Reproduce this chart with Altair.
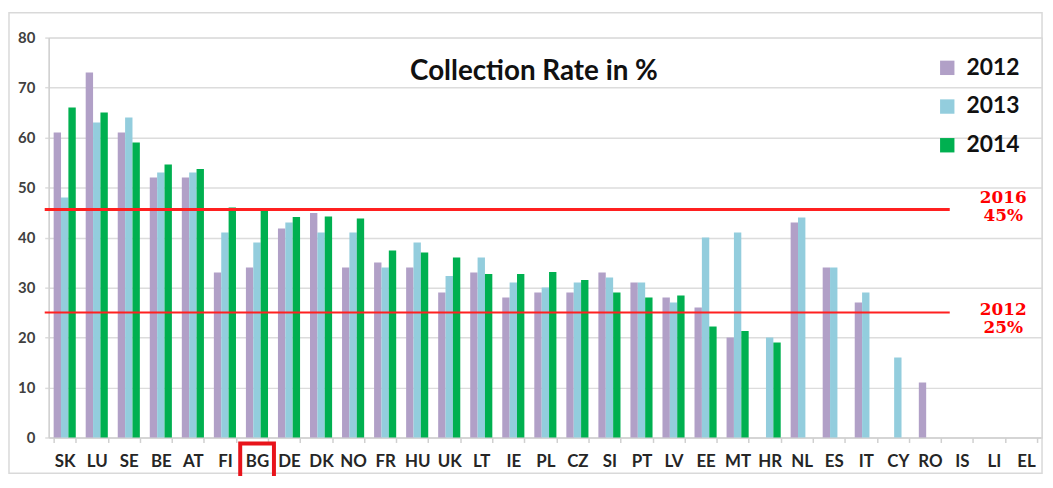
import altair as alt
import pandas as pd

countries = ["SK", "LU", "SE", "BE", "AT", "FI", "BG", "DE", "DK", "NO", "FR", "HU",
             "UK", "LT", "IE", "PL", "CZ", "SI", "PT", "LV", "EE", "MT", "HR", "NL",
             "ES", "IT", "CY", "RO", "IS", "LI", "EL"]
rate_2012 = [61, 73, 61, 52, 52, 33, 34, 41.8, 44.9, 34, 35, 34, 29, 33, 28, 29, 29, 33,
             31, 28, 26, 20, None, 43, 34, 27, None, 11, None, None, None]
rate_2013 = [48, 63, 64, 53, 53, 41, 39, 43, 41, 41, 34, 39, 32.3, 36, 31, 30, 31, 32,
             31, 27, 40, 41, 20, 44, 34, 29, 16, None, None, None, None]
rate_2014 = [66, 65, 59, 54.6, 53.7, 46, 45.4, 44.1, 44.2, 43.8, 37.4, 37, 36, 32.7,
             32.7, 33.1, 31.5, 29, 28, 28.4, 22.2, 21.3, 19, None, None, None, None,
             None, None, None, None]
years = ["2012", "2013", "2014"]
colors = ["#B1A0C7", "#93CDDD", "#00B050"]

target_values = [45.6, 25]
target_widths = [3, 2]
target_names = ["2016\n45%", "2012\n25%"]

rows = []
for yr, series in zip(years, [rate_2012, rate_2013, rate_2014]):
    for c, v in zip(countries, series):
        if v is not None:
            rows.append({"country": c, "year": yr, "rate": v})
bars_df = pd.DataFrame(rows)
targets_df = pd.DataFrame({"v": target_values, "w": target_widths, "label": target_names})
one = pd.DataFrame({"a": [0]})

FONT = "Lato"

x_enc = alt.X(
    "country:N",
    sort=countries,
    scale=alt.Scale(domain=countries, paddingInner=0.31, paddingOuter=0.155),
    axis=alt.Axis(title=None, labelAngle=0, labelFont=FONT, labelFontWeight="bold",
                  labelFontSize=17, labelColor="#262626", labelPadding=11,
                  tickBand="extent", ticks=True, tickSize=5, tickColor="#D0D0D0",
                  tickWidth=1.5, domainColor="#D0D0D0", domainWidth=1.5, grid=False),
)
y_enc = alt.Y(
    "rate:Q",
    scale=alt.Scale(domain=[0, 80], nice=False),
    axis=alt.Axis(title=None, values=list(range(0, 81, 10)), grid=True,
                  gridColor="#DCDCDC", gridWidth=1.5, tickColor="#DCDCDC",
                  tickWidth=1.5, tickSize=4, domainColor="#D0D0D0", domainWidth=1.5,
                  labelFont=FONT, labelFontWeight="bold", labelFontSize=15,
                  labelColor="#404040", labelPadding=10),
)

bars = alt.Chart(bars_df).mark_bar().encode(
    x=x_enc,
    xOffset=alt.XOffset("year:N", scale=alt.Scale(domain=years)),
    y=y_enc,
    color=alt.Color(
        "year:N",
        scale=alt.Scale(domain=years, range=colors),
        legend=alt.Legend(orient="none", legendX=894, legendY=19, title=None,
                          symbolType="square", symbolSize=210, symbolStrokeWidth=0,
                          symbolOpacity=1, labelFont=FONT, labelFontSize=23,
                          labelFontWeight="bold", labelColor="#111111",
                          rowPadding=15, labelOffset=8),
    ),
)

rules = alt.Chart(targets_df).mark_rule(color="#FF2020").encode(
    y=alt.Y("v:Q"),
    x=alt.value(-4),
    x2=alt.value(908),
    size=alt.Size("w:Q", scale=None),
)

lab_top = alt.Chart(targets_df).transform_filter(alt.datum.v > 40).mark_text(
    font="DejaVu Serif", fontWeight="bold", fontSize=17, color="#FF0000",
    lineBreak="\n", lineHeight=19, align="center", baseline="middle", dy=-12,
).encode(y=alt.Y("v:Q"), x=alt.value(962), text="label:N")

lab_bot = alt.Chart(targets_df).transform_filter(alt.datum.v < 40).mark_text(
    font="DejaVu Serif", fontWeight="bold", fontSize=17, color="#FF0000",
    lineBreak="\n", lineHeight=19, align="center", baseline="middle", dy=-3,
).encode(y=alt.Y("v:Q"), x=alt.value(962), text="label:N")

title = alt.Chart(one).mark_text(
    text="Collection Rate in %", font=FONT, fontWeight="bold", fontSize=28,
    color="#111111", align="center", baseline="alphabetic",
).encode(x=alt.value(489), y=alt.value(43))

border = alt.Chart(one).mark_rect(fill=None, stroke="#D9D9D9", strokeWidth=1.5).encode(
    x=alt.value(-40), x2=alt.value(1001), y=alt.value(-25), y2=alt.value(439)
)

bg_box = alt.Chart(one).mark_rect(fill=None, stroke="#E8141B", strokeWidth=4).encode(
    x=alt.value(193), x2=alt.value(227), y=alt.value(409), y2=alt.value(470)
)

chart = alt.layer(border, bars, rules, lab_top, lab_bot, title, bg_box).properties(
    width=1001, height=403,
    padding={"left": 41, "top": 28, "right": 3, "bottom": 37},
    autosize=alt.AutoSizeParams(type="none"),
).configure_view(stroke=None).configure(background="white")

chart.save("out.html", embed_options={"renderer": "svg", "actions": False})
